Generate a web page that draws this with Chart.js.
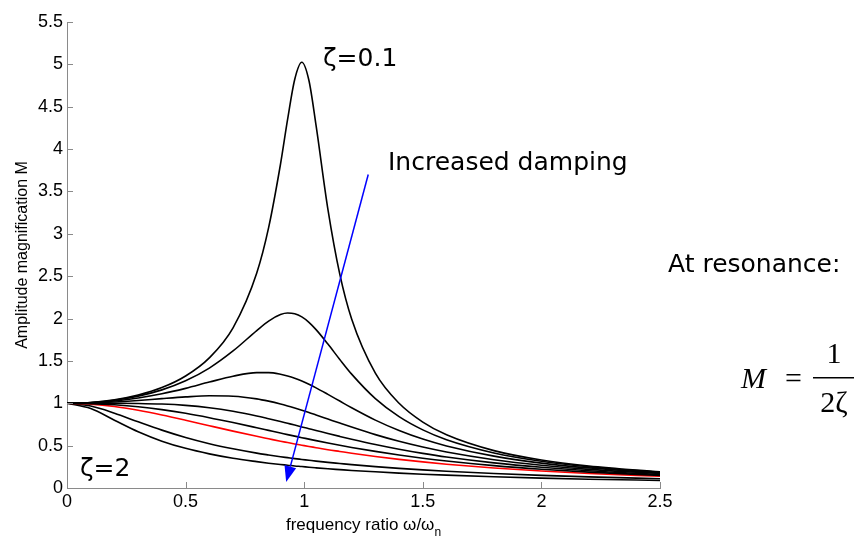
<!DOCTYPE html>
<html>
<head>
<meta charset="utf-8">
<title>Amplitude magnification</title>
<script src="https://cdn.jsdelivr.net/npm/chart.js@4.4.1/dist/chart.umd.min.js"></script>
<style>
  html, body { margin:0; padding:0; background:#fff; }
  #wrap { width:857px; height:538px; position:relative; }
</style>
</head>
<body>
<div id="wrap"><canvas id="chart" width="857" height="538"></canvas></div>
<script>
// =========================
// Data
// frequency ratio (x), shared by every curve
const ratio = [0, 0.1, 0.2, 0.3, 0.4, 0.5, 0.6, 0.7, 0.8, 0.85, 0.9, 0.93, 0.96, 0.99, 1.02, 1.05, 1.1, 1.15, 1.2, 1.3, 1.4, 1.5, 1.6, 1.8, 2.0, 2.2, 2.5];

// amplitude magnification M for each damping ratio
const zeta010 = [1.000, 1.010, 1.041, 1.097, 1.185, 1.322, 1.536, 1.891, 2.538, 3.073, 3.821, 4.350, 4.822, 5.025, 4.809, 4.279, 3.288, 2.524, 1.995, 1.356, 1.000, 0.778, 0.628, 0.441, 0.330, 0.259, 0.190];
const zeta025 = [1.000, 1.009, 1.036, 1.084, 1.158, 1.265, 1.415, 1.617, 1.858, 1.970, 2.047, 2.065, 2.056, 2.019, 1.955, 1.869, 1.699, 1.517, 1.344, 1.055, 0.842, 0.686, 0.570, 0.414, 0.316, 0.250, 0.185];
const zeta040 = [1.000, 1.007, 1.027, 1.063, 1.112, 1.176, 1.250, 1.320, 1.362, 1.362, 1.343, 1.322, 1.295, 1.262, 1.224, 1.182, 1.105, 1.026, 0.947, 0.801, 0.678, 0.577, 0.496, 0.376, 0.294, 0.237, 0.178];
const zeta055 = [1.000, 1.004, 1.015, 1.033, 1.055, 1.075, 1.088, 1.083, 1.052, 1.025, 0.992, 0.969, 0.944, 0.918, 0.891, 0.862, 0.814, 0.766, 0.719, 0.630, 0.551, 0.483, 0.425, 0.334, 0.269, 0.220, 0.169];
const zeta070 = [1.000, 1.000, 1.000, 0.998, 0.991, 0.975, 0.947, 0.905, 0.850, 0.818, 0.785, 0.764, 0.743, 0.721, 0.700, 0.679, 0.643, 0.609, 0.576, 0.514, 0.458, 0.409, 0.366, 0.297, 0.244, 0.203, 0.158];
const zeta085 = [1.000, 0.996, 0.982, 0.959, 0.925, 0.882, 0.830, 0.772, 0.711, 0.680, 0.649, 0.630, 0.612, 0.594, 0.577, 0.559, 0.531, 0.505, 0.479, 0.432, 0.390, 0.352, 0.319, 0.264, 0.221, 0.187, 0.148];
const zeta100 = [1.000, 0.990, 0.962, 0.917, 0.862, 0.800, 0.735, 0.671, 0.610, 0.581, 0.552, 0.536, 0.520, 0.505, 0.490, 0.476, 0.452, 0.431, 0.410, 0.372, 0.338, 0.308, 0.281, 0.236, 0.200, 0.171, 0.138];
const zeta150 = [1.000, 0.967, 0.883, 0.781, 0.683, 0.596, 0.523, 0.463, 0.412, 0.390, 0.369, 0.358, 0.347, 0.337, 0.327, 0.317, 0.302, 0.289, 0.276, 0.252, 0.232, 0.214, 0.198, 0.171, 0.149, 0.131, 0.109];
const zeta200 = [1.000, 0.937, 0.800, 0.664, 0.553, 0.468, 0.403, 0.351, 0.311, 0.293, 0.277, 0.269, 0.260, 0.253, 0.245, 0.238, 0.227, 0.217, 0.207, 0.191, 0.176, 0.163, 0.152, 0.133, 0.117, 0.104, 0.089];

const curveNames = ['ζ=0.1', 'ζ=0.25', 'ζ=0.4', 'ζ=0.55', 'ζ=0.7', 'ζ=0.85', 'ζ=1', 'ζ=1.5', 'ζ=2'];
const curveValues = [zeta010, zeta025, zeta040, zeta055, zeta070, zeta085, zeta100, zeta150, zeta200];

// axis ranges / ticks
const xTicks = [0, 0.5, 1, 1.5, 2, 2.5];
const yTicks = [0, 0.5, 1, 1.5, 2, 2.5, 3, 3.5, 4, 4.5, 5, 5.5];

// "Increased damping" arrow, in data units (tail -> head)
const arrowTail = { x: 1.27, y: 3.70 };
const arrowHead = { x: 0.924, y: 0.07 };

// =========================
// Helpers
const SANS = '"Liberation Sans", Arial, sans-serif';
const VERD = '"DejaVu Sans", Verdana, sans-serif';
const SERIF = '"Liberation Serif", "Times New Roman", serif';
const AXIS_GRAY = '#8a8a8a';

const toPoints = vals => ratio.map((x, i) => ({ x, y: vals[i] }));
const plainNum = v => String(v);   // 1 -> "1", 0.5 -> "0.5"

// Ticks drawn inward, like the original plot
const innerTicks = {
  id: 'innerTicks',
  afterDraw(chart){
    const { ctx, chartArea:a, scales:{ x, y } } = chart;
    ctx.save();
    ctx.strokeStyle = AXIS_GRAY;
    ctx.lineWidth = 1;
    ctx.beginPath();
    xTicks.forEach(v => {
      const px = Math.round(x.getPixelForValue(v)) + 0.5;
      ctx.moveTo(px, a.bottom); ctx.lineTo(px, a.bottom - 6);
    });
    yTicks.forEach(v => {
      const py = Math.round(y.getPixelForValue(v)) + 0.5;
      ctx.moveTo(a.left, py); ctx.lineTo(a.left + 6, py);
    });
    ctx.stroke();
    ctx.restore();
  }
};

// Arrow, labels, x title with subscript, formula
const annotations = {
  id: 'annotations',
  afterDatasetsDraw(chart){
    const { ctx, chartArea:a, scales:{ x, y } } = chart;
    ctx.save();

    // blue arrow
    const x1 = x.getPixelForValue(arrowTail.x), y1 = y.getPixelForValue(arrowTail.y);
    const x2 = x.getPixelForValue(arrowHead.x), y2 = y.getPixelForValue(arrowHead.y);
    const ang = Math.atan2(y2 - y1, x2 - x1);
    const hl = 16, hw = 6;
    ctx.strokeStyle = '#0000ff';
    ctx.fillStyle = '#0000ff';
    ctx.lineWidth = 1.5;
    ctx.beginPath();
    ctx.moveTo(x1, y1);
    ctx.lineTo(x2 - hl * Math.cos(ang), y2 - hl * Math.sin(ang));
    ctx.stroke();
    ctx.beginPath();
    ctx.moveTo(x2, y2);
    ctx.lineTo(x2 - hl * Math.cos(ang) + hw * Math.sin(ang), y2 - hl * Math.sin(ang) - hw * Math.cos(ang));
    ctx.lineTo(x2 - hl * Math.cos(ang) - hw * Math.sin(ang), y2 - hl * Math.sin(ang) + hw * Math.cos(ang));
    ctx.closePath();
    ctx.fill();

    // text labels
    ctx.fillStyle = '#000';
    ctx.textBaseline = 'alphabetic';
    ctx.textAlign = 'left';
    ctx.font = '25px ' + VERD;
    ctx.fillText('ζ=0.1', 323, 66);
    ctx.fillText('Increased damping', 388, 170);
    ctx.fillText('ζ=2', 80, 476);
    ctx.fillText('At resonance:', 668, 272);

    // formula M = 1 / 2ζ
    ctx.font = 'italic 30px ' + SERIF;
    ctx.fillText('M', 741, 388);
    ctx.font = '30px ' + SERIF;
    ctx.fillText('=', 785, 388);
    ctx.textAlign = 'center';
    ctx.fillText('1', 834, 363);
    ctx.fillText('2ζ', 834, 412);
    ctx.fillRect(813, 377, 41, 1.5);

    // x axis title with subscript n
    ctx.textAlign = 'left';
    const main = 'frequency ratio ω/ω';
    ctx.font = '17px ' + SANS;
    const wMain = ctx.measureText(main).width;
    ctx.font = '12px ' + SANS;
    const wSub = ctx.measureText('n').width;
    const cx = (a.left + a.right) / 2;
    const sx = cx - (wMain + wSub) / 2;
    ctx.font = '17px ' + SANS;
    ctx.fillText(main, sx, 530);
    ctx.font = '12px ' + SANS;
    ctx.fillText('n', sx + wMain, 536);

    ctx.restore();
  }
};

// =========================
// Chart
const datasets = curveValues.map((vals, i) => ({
  label: curveNames[i],
  data: toPoints(vals),
  borderColor: curveNames[i] === 'ζ=1' ? '#ff0000' : '#000000',
  borderWidth: 1.6,
  pointRadius: 0,
  fill: false,
  cubicInterpolationMode: 'monotone'
}));

new Chart(document.getElementById('chart').getContext('2d'), {
  type: 'line',
  data: { datasets },
  options: {
    responsive: false,
    animation: false,
    events: [],
    layout: { padding: { top: 22, right: 197, left: 0, bottom: 0 } },
    plugins: { legend: { display: false }, tooltip: { enabled: false } },
    scales: {
      x: {
        type: 'linear', min: 0, max: 2.5,
        afterBuildTicks: s => { s.ticks = xTicks.map(v => ({ value: v })); },
        afterFit: s => { s.height = 50; },
        grid: { display: false, drawTicks: false },
        border: { display: true, color: AXIS_GRAY, width: 1 },
        ticks: { color: '#000', font: { family: SANS, size: 18 }, padding: 3, maxRotation: 0, callback: plainNum }
      },
      y: {
        min: 0, max: 5.5,
        afterBuildTicks: s => { s.ticks = yTicks.map(v => ({ value: v })); },
        afterFit: s => { s.width = 67; },
        grid: { display: false, drawTicks: false },
        border: { display: true, color: AXIS_GRAY, width: 1 },
        ticks: { color: '#000', font: { family: SANS, size: 18 }, padding: 4, callback: plainNum },
        title: { display: true, text: 'Amplitude magnification M', color: '#000',
                 font: { family: SANS, size: 16 }, padding: { top: 13, bottom: 0 } }
      }
    }
  },
  plugins: [innerTicks, annotations]
});
</script>
</body>
</html>
